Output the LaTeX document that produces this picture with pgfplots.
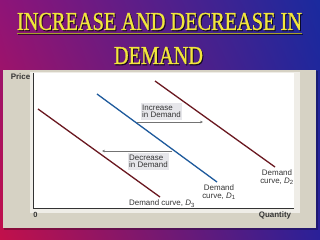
\documentclass[border=0pt]{standalone}
\usepackage{fontspec}
\setmainfont{Liberation Sans}
\newfontfamily\titlefont{Liberation Serif}[FakeBold=1.2]
\usepackage{pgfplots}
\pgfplotsset{compat=1.18}
\usetikzlibrary{arrows.meta,shadings}
\definecolor{bgUL}{HTML}{8E1478}
\definecolor{bgUR}{HTML}{1A2A9E}
\definecolor{bgLL}{HTML}{C2104A}
\definecolor{bgLR}{HTML}{2A2098}
\definecolor{panel}{HTML}{D6D2C4}
\definecolor{dred}{HTML}{6A1820}
\definecolor{dblue}{HTML}{1E5A9C}
\definecolor{ttl}{HTML}{F2E63C}
\definecolor{txt}{HTML}{353535}
\definecolor{boxc}{HTML}{E6E6EA}
\newcommand\labf{\fontsize{8}{7.5}\selectfont}
\newcommand\Dsub[1]{\textit{D}\textsubscript{#1}}
\begin{document}
\begin{tikzpicture}[x=1bp,y=1bp]
\path[use as bounding box] (0,0) rectangle (320,240);
\shade[upper left=bgUL, upper right=bgUR, lower left=bgLL, lower right=bgLR] (0,0) rectangle (320,240);
% panel
\fill[black,opacity=0.25] (4,10) rectangle (318,169);
\fill[panel] (3,12) rectangle (316,170);
\fill[panel!40!white] (30,27) rectangle (300,168);
\fill[white] (33,32) rectangle (294,167);
% title
\node[black,opacity=0.65] at (160.5,217.3) {\resizebox{285bp}{17bp}{\titlefont INCREASE AND DECREASE IN}};
\node[ttl] at (159.5,218.5) {\resizebox{285bp}{17bp}{\titlefont INCREASE AND DECREASE IN}};
\draw[black,opacity=0.6,line width=0.8bp] (18,205.8) -- (303,205.8);
\draw[ttl!70!black,line width=0.7bp] (17,206.8) -- (302,206.8);
\node[black,opacity=0.65] at (159.5,183.3) {\resizebox{89bp}{17bp}{\titlefont DEMAND}};
\node[ttl] at (158.5,184.5) {\resizebox{89bp}{17bp}{\titlefont DEMAND}};
% axis texts
\node[txt,font=\bfseries\fontsize{8}{8}\selectfont] at (20.5,163) {Price};
\node[txt,font=\bfseries\fontsize{8}{8}\selectfont] at (275,25) {Quantity};
\node[txt,font=\bfseries\fontsize{7.5}{8}\selectfont] at (35.5,25) {0};
\begin{axis}[
  at={(33bp,32bp)}, anchor=south west,
  scale only axis, width=261bp, height=135bp,
  xmin=0, xmax=261, ymin=0, ymax=135,
  axis lines=left, axis line style={-, black!80, line width=0.8bp},
  ticks=none, clip=false
]
\addplot[no marks, color=dred, line width=1.3bp] coordinates {(5,99) (127,11)};
\addplot[no marks, color=dblue, line width=1.3bp] coordinates {(64,114) (184,26)};
\addplot[no marks, color=dred, line width=1.3bp] coordinates {(122,127) (242,41)};
\draw[-{Stealth[length=3bp,width=2.6bp]}, black!55, line width=0.6bp] (axis cs:104,86) -- (axis cs:170,86);
\draw[-{Stealth[length=3bp,width=2.6bp]}, black!55, line width=0.6bp] (axis cs:139,57) -- (axis cs:69,57);
\node[fill=boxc, inner sep=1.5bp, align=left, font=\labf, text=txt] at (axis cs:128.5,96.5) {Increase\\in Demand};
\node[fill=boxc, inner sep=1.5bp, align=left, font=\labf, text=txt] at (axis cs:115.5,46.5) {Decrease\\in Demand};
\node[align=center, font=\labf, text=txt] at (axis cs:244,30.5) {Demand\\curve, \Dsub{2}};
\node[align=center, font=\labf, text=txt] at (axis cs:186,15.5) {Demand\\curve, \Dsub{1}};
\node[font=\labf, text=txt] at (axis cs:129,4.5) {Demand curve, \Dsub{3}};
\end{axis}
\end{tikzpicture}
\end{document}
